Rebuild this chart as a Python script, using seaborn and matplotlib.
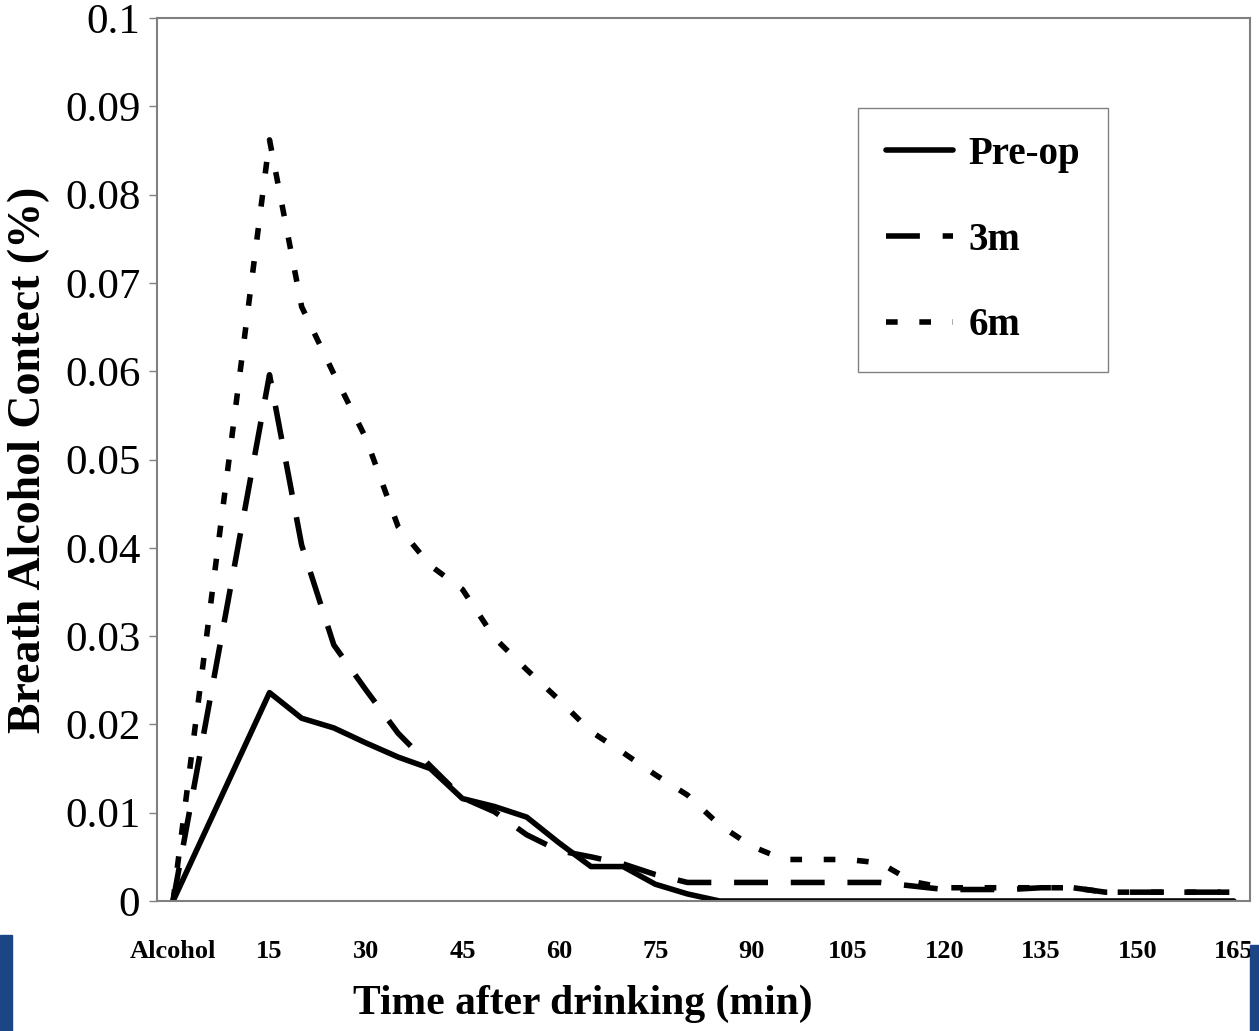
import numpy as np
import pandas as pd
import matplotlib
matplotlib.use("Agg")
import matplotlib.pyplot as plt
from matplotlib.patches import Rectangle
import seaborn as sns

# ---------------------------------------------------
# DATOS DEL GRAFICO
# ---------------------------------------------------
MINUTES = [0, 5, 10, 15, 20, 25, 30, 35, 40, 45, 50, 55, 60, 65, 70, 75, 80,
           85, 90, 95, 100, 105, 110, 115, 120, 125, 130, 135, 140, 145, 150,
           155, 160, 165]
X_TICKS = [0, 15, 30, 45, 60, 75, 90, 105, 120, 135, 150, 165]
X_TICK_LABELS = ["Alcohol", "15", "30", "45", "60", "75", "90", "105", "120",
                 "135", "150", "165"]
Y_TICKS = [0, 0.01, 0.02, 0.03, 0.04, 0.05, 0.06, 0.07, 0.08, 0.09, 0.1]
Y_TICK_LABELS = ["0", "0.01", "0.02", "0.03", "0.04", "0.05", "0.06", "0.07",
                 "0.08", "0.09", "0.1"]
SERIES = ["Pre-op", "3m", "6m"]

PRE_OP = [0, np.nan, np.nan, 0.0236, 0.0207, 0.0196, 0.0179, 0.0163, 0.0150,
          0.0116, 0.0107, 0.0095, 0.0066, 0.0039, 0.0039, 0.0019, 0.0008,
          0, 0, 0, 0, 0, 0, 0, 0, 0, 0, 0, 0, 0, 0, 0, 0, 0]
M3 = [0, np.nan, np.nan, 0.0596, 0.0403, 0.0290, 0.0239, 0.0190, 0.0153,
      0.0117, 0.0101, 0.0075, 0.0057, 0.0050, 0.0042, 0.0030, 0.0021,
      0.0021, 0.0021, 0.0021, 0.0021, 0.0021, 0.0021, 0.0017, 0.0013,
      0.0013, 0.0013, 0.0015, 0.0015, 0.0010, 0.0010, 0.0010, 0.0010, 0.0010]
M6 = [0, np.nan, np.nan, 0.0862, 0.0673, 0.0597, 0.0524, 0.0424, 0.0380,
      0.0353, 0.0298, 0.0262, 0.0228, 0.0192, 0.0168, 0.0143, 0.0120,
      0.0086, 0.0062, 0.0047, 0.0047, 0.0047, 0.0043, 0.0022, 0.0015,
      0.0015, 0.0015, 0.0015, 0.0015, 0.0010, 0.0010, 0.0010, 0.0010, 0.0010]
# ---------------------------------------------------

GRIS = "#808080"


def build_dataframe():
    # Pasar las tres series a formato largo y quitar los huecos
    frames = []
    for name, values in zip(SERIES, [PRE_OP, M3, M6]):
        frames.append(pd.DataFrame({"minute": MINUTES, "value": values, "series": name}))
    df = pd.concat(frames, ignore_index=True)
    return df.dropna()


def plot_chart(df):
    sns.set_style("white")
    plt.rcParams["font.family"] = ["Liberation Serif", "DejaVu Serif"]
    plt.rcParams["text.color"] = "black"
    plt.rcParams["axes.labelcolor"] = "black"
    plt.rcParams["xtick.color"] = "black"
    plt.rcParams["ytick.color"] = "black"

    fig = plt.figure(figsize=(12.59, 10.31), dpi=100)
    ax = fig.add_axes([157 / 1259, 1 - 901 / 1031, 1093 / 1259, 883 / 1031])

    dashes = {"Pre-op": "", "3m": (6.1, 4.1), "6m": (2.1, 3.9)}
    sns.lineplot(data=df, x="minute", y="value", hue="series", style="series",
                 hue_order=SERIES, style_order=SERIES, palette=["black"] * 3,
                 dashes=dashes, linewidth=4, estimator=None, sort=True, ax=ax)

    # Ejes
    ax.set_xlim(-2.5, 167.5)
    ax.set_ylim(0, 0.1)
    ax.set_xticks(X_TICKS)
    ax.set_xticklabels(X_TICK_LABELS, fontsize=19, fontweight="bold", color="black")
    ax.set_xticks(np.arange(-2.5, 168, 5), minor=True)
    ax.set_yticks(Y_TICKS)
    ax.set_yticklabels(Y_TICK_LABELS, fontsize=31, color="black")
    ax.tick_params(axis="x", which="major", length=0, pad=28)
    ax.tick_params(axis="x", which="minor", length=7, width=1, color=GRIS, direction="out")
    ax.tick_params(axis="y", length=6, width=1, color=GRIS, direction="out", pad=6, left=True)
    for spine in ax.spines.values():
        spine.set_color(GRIS)
        spine.set_linewidth(1.5)

    ax.set_xlabel("Time after drinking (min)", fontsize=30, fontweight="bold", color="black")
    ax.set_ylabel("Breath Alcohol Contect (%)", fontsize=33, fontweight="bold", color="black")
    ax.xaxis.set_label_coords(0.39, -0.095)
    ax.yaxis.set_label_coords(-0.098, 0.5)

    # Leyenda
    handles, labels = ax.get_legend_handles_labels()
    leg = ax.legend(handles, labels, loc="upper left", bbox_to_anchor=(0.641, 0.898),
                    borderaxespad=0, frameon=True, fancybox=False, framealpha=1,
                    edgecolor=GRIS,
                    prop={"family": "Liberation Serif", "weight": "bold", "size": 28},
                    handlelength=1.73, handletextpad=0.4, labelspacing=1.25,
                    borderpad=0.72)
    leg.get_frame().set_linewidth(1)
    for line in leg.get_lines():
        line.set_linewidth(4)
    for text in leg.get_texts():
        text.set_color("black")

    # Franjas azules de la diapositiva original
    fig.patches.append(Rectangle((0, 0), 12 / 1259, 96 / 1031, transform=fig.transFigure,
                                 color="#1b4585", zorder=0))
    fig.patches.append(Rectangle((1250 / 1259, 0), 9 / 1259, 86 / 1031, transform=fig.transFigure,
                                 color="#1b4585", zorder=0))

    fig.savefig("out.png", dpi=100)


def main():
    df = build_dataframe()
    plot_chart(df)


if __name__ == "__main__":
    main()
